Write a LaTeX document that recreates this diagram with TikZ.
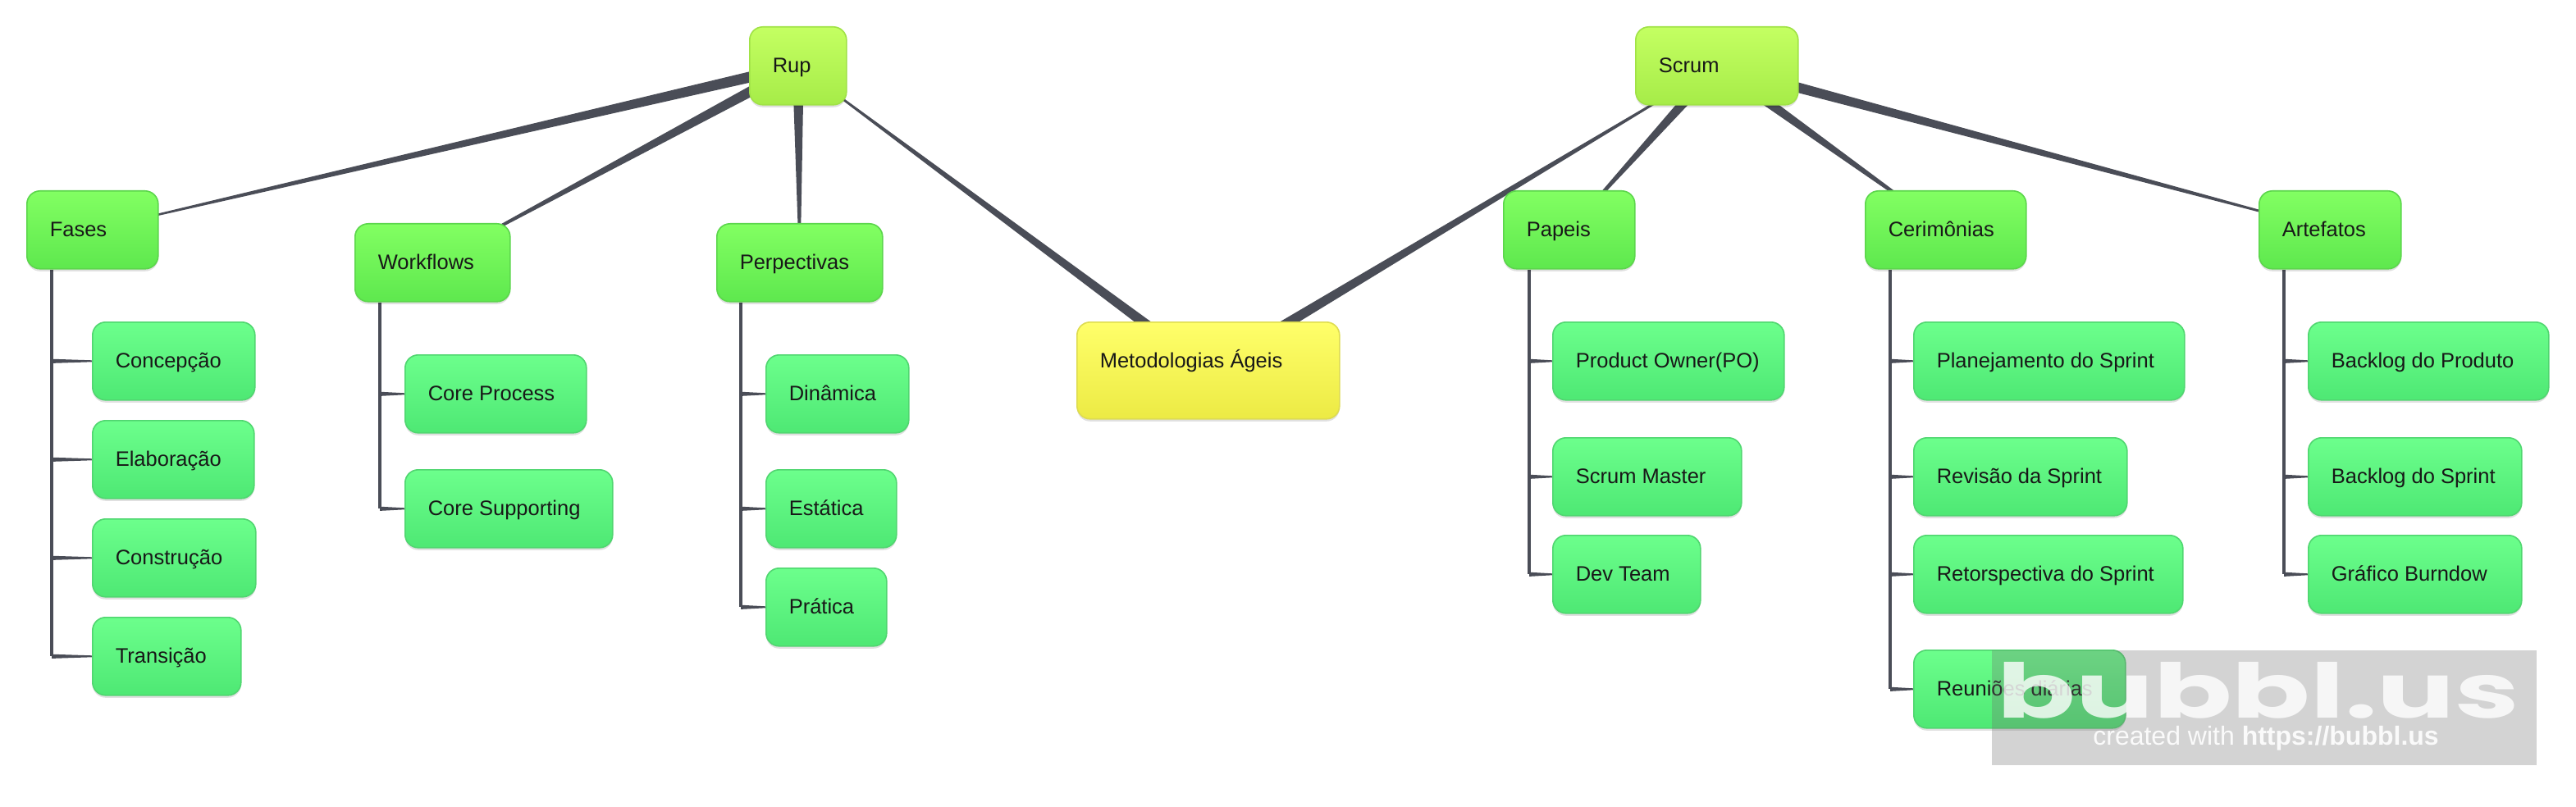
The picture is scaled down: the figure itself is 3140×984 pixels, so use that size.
\documentclass[tikz,border=0pt]{standalone}
\usepackage{fontspec}
\setmainfont{Liberation Sans}
\newfontfamily\wmfont{Poppins}
\usetikzlibrary{calc,shadows}
\pgfdeclarelayer{bg}
\pgfsetlayers{bg,main}
\definecolor{conn}{RGB}{74,77,87}
\definecolor{txt}{RGB}{24,24,24}
\definecolor{lAtop}{RGB}{196,255,98}
\definecolor{lAbot}{RGB}{166,236,72}
\definecolor{lAbd}{RGB}{160,226,70}
\definecolor{lBtop}{RGB}{130,255,98}
\definecolor{lBbot}{RGB}{94,232,78}
\definecolor{lBbd}{RGB}{92,214,76}
\definecolor{lCtop}{RGB}{108,255,140}
\definecolor{lCbot}{RGB}{78,232,116}
\definecolor{lCbd}{RGB}{80,214,112}
\definecolor{rtop}{RGB}{255,255,106}
\definecolor{rbot}{RGB}{236,234,68}
\definecolor{rbd}{RGB}{222,220,80}
\definecolor{wmgray}{RGB}{110,110,110}
\newcommand\lbl[2]{\makebox[#1pt][l]{#2}}
\newcommand\tapline[3]{\fill[conn] ($(#1.center)!#3!90:(#2.center)$) -- ($(#2.center)!0.7pt!-90:(#1.center)$) -- ($(#2.center)!0.7pt!90:(#1.center)$) -- ($(#1.center)!#3!-90:(#2.center)$) -- cycle;}
\newcommand\brn[2]{\path (#1 |- #2.west) coordinate (bt);
  \fill[conn] ($(bt)+(0,-2.6)$) -- ($(#2.west)+(0,-1)$) -- ($(#2.west)+(0,1)$) -- ($(bt)+(0,2.6)$) -- cycle;}
\tikzset{
  box/.style={rectangle, rounded corners=16pt, anchor=north west, line width=1.6pt,
    inner xsep=28pt, inner ysep=0pt, text height=56pt, text depth=39pt,
    font=\fontsize{25.5}{30}\selectfont, text=txt,
    drop shadow={shadow xshift=0pt, shadow yshift=-3pt, opacity=0.12, fill=black}},
  lvA/.style={box, draw=lAbd, top color=lAtop, middle color=lAtop, bottom color=lAbot},
  lvB/.style={box, draw=lBbd, top color=lBtop, middle color=lBtop, bottom color=lBbot},
  lvC/.style={box, draw=lCbd, top color=lCtop, middle color=lCtop, bottom color=lCbot},
  rootbox/.style={box, text depth=62pt, draw=rbd, top color=rtop, middle color=rtop, bottom color=rbot},
  trunk/.style={draw=conn, line width=3.5pt},
}
\begin{document}
\begin{tikzpicture}[x=1pt,y=-1pt]
\useasboundingbox (0,0) rectangle (3140,984);
% top levels
\node[lvA] (rup) at (913,32) {\lbl{62}{Rup}};
\node[lvA] (scrum) at (1993,32) {\lbl{142}{Scrum}};
\node[rootbox] (meto) at (1312,392) {\lbl{264}{Metodologias Ágeis}};
% second level
\node[lvB] (fases) at (32,232) {\lbl{104}{Fases}};
\node[lvB] (work) at (432,272) {\lbl{133}{Workflows}};
\node[lvB] (perp) at (873,272) {\lbl{146}{Perpectivas}};
\node[lvB] (papeis) at (1832,232) {\lbl{104}{Papeis}};
\node[lvB] (cerim) at (2273,232) {\lbl{140}{Cerimônias}};
\node[lvB] (artef) at (2753,232) {\lbl{117}{Artefatos}};
% third level
\node[lvC] (conc) at (112,392) {\lbl{142}{Concepção}};
\node[lvC] (elab) at (112,512) {\lbl{141}{Elaboração}};
\node[lvC] (constr) at (112,632) {\lbl{143}{Construção}};
\node[lvC] (trans) at (112,752) {\lbl{125}{Transição}};
\node[lvC] (cproc) at (493,432) {\lbl{165}{Core Process}};
\node[lvC] (csup) at (493,572) {\lbl{197}{Core Supporting}};
\node[lvC] (din) at (933,432) {\lbl{118}{Dinâmica}};
\node[lvC] (est) at (933,572) {\lbl{103}{Estática}};
\node[lvC] (prat) at (933,692) {\lbl{91}{Prática}};
\node[lvC] (po) at (1892,392) {\lbl{226}{Product Owner(PO)}};
\node[lvC] (sm) at (1892,533) {\lbl{174}{Scrum Master}};
\node[lvC] (dev) at (1892,652) {\lbl{124}{Dev Team}};
\node[lvC] (plan) at (2332,392) {\lbl{274}{Planejamento do Sprint}};
\node[lvC] (rev) at (2332,533) {\lbl{204}{Revisão da Sprint}};
\node[lvC] (retro) at (2332,652) {\lbl{272}{Retorspectiva do Sprint}};
\node[lvC] (reun) at (2332,792) {\lbl{202}{Reuniões diárias}};
\node[lvC] (bprod) at (2813,392) {\lbl{237}{Backlog do Produto}};
\node[lvC] (bspr) at (2813,533) {\lbl{204}{Backlog do Sprint}};
\node[lvC] (graf) at (2813,652) {\lbl{204}{Gráfico Burndow}};
% trunk coordinates
\coordinate (tf) at ([xshift=31pt]fases.south west);
\coordinate (tw) at ([xshift=31pt]work.south west);
\coordinate (tp) at ([xshift=30pt]perp.south west);
\coordinate (tpa) at ([xshift=32pt]papeis.south west);
\coordinate (tc) at ([xshift=31pt]cerim.south west);
\coordinate (ta) at ([xshift=31pt]artef.south west);
\begin{pgfonlayer}{bg}
  \fill[white] (0,0) rectangle (3140,984);
  \tapline{meto}{rup}{7pt}
  \tapline{meto}{scrum}{7pt}
  \tapline{rup}{fases}{7pt}
  \tapline{rup}{work}{7pt}
  \tapline{rup}{perp}{7pt}
  \tapline{scrum}{papeis}{7pt}
  \tapline{scrum}{cerim}{7pt}
  \tapline{scrum}{artef}{7pt}
  \draw[trunk] (tf) -- (tf |- trans.west);
  \brn{tf}{conc} \brn{tf}{elab} \brn{tf}{constr} \brn{tf}{trans}
  \draw[trunk] (tw) -- (tw |- csup.west);
  \brn{tw}{cproc} \brn{tw}{csup}
  \draw[trunk] (tp) -- (tp |- prat.west);
  \brn{tp}{din} \brn{tp}{est} \brn{tp}{prat}
  \draw[trunk] (tpa) -- (tpa |- dev.west);
  \brn{tpa}{po} \brn{tpa}{sm} \brn{tpa}{dev}
  \draw[trunk] (tc) -- (tc |- reun.west);
  \brn{tc}{plan} \brn{tc}{rev} \brn{tc}{retro} \brn{tc}{reun}
  \draw[trunk] (ta) -- (ta |- graf.west);
  \brn{ta}{bprod} \brn{ta}{bspr} \brn{ta}{graf}
\end{pgfonlayer}
% watermark
\node[anchor=north west, minimum width=664pt, minimum height=140pt, inner sep=0pt,
  fill=wmgray, fill opacity=0.3] (wm) at (2428,793) {};
\node[anchor=base, inner sep=0pt, text=white, text opacity=0.8,
  font=\wmfont\bfseries\fontsize{92}{92}\selectfont] (wmlogo) at (2753,875) {\scalebox{1.53}[1]{bubbl.us}};
\node[anchor=base, inner sep=0pt, text=white, text opacity=0.9,
  font=\fontsize{32}{36}\selectfont] (wmurl) at (2762,908) {created with \textbf{https://bubbl.us}};
\end{tikzpicture}
\end{document}
